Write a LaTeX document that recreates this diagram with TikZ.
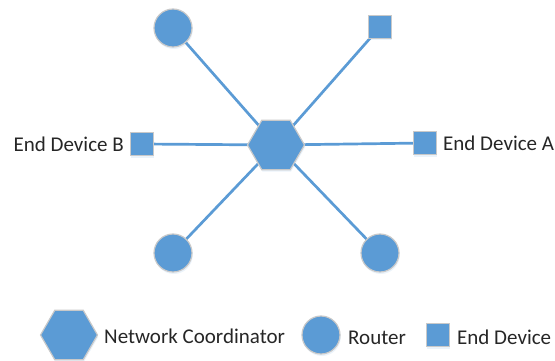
\documentclass[tikz,border=0pt]{standalone}
\usepackage{fontspec}
\setmainfont{Carlito}
\usetikzlibrary{shapes.geometric,shadows}
\definecolor{nodeblue}{HTML}{5B9BD5}
\definecolor{rimgray}{HTML}{C9C9C9}
\definecolor{txt}{HTML}{262626}
\tikzset{
  dev/.style={fill=nodeblue, draw=rimgray, line width=1.2pt,
    drop shadow={opacity=0.12, shadow xshift=0.8pt, shadow yshift=-2pt, fill=nodeblue}},
  hexnode/.style={dev, shape=regular polygon, regular polygon sides=6, minimum size=57pt, inner sep=0pt},
  routernode/.style={dev, circle, minimum size=38pt, inner sep=0pt},
  endnode/.style={dev, rectangle, minimum size=23pt, inner sep=0pt},
  link/.style={draw=nodeblue, line width=2.7pt},
  lab/.style={text=txt, font=\fontsize{21pt}{24pt}\selectfont, inner sep=0pt}
}
\begin{document}
\begin{tikzpicture}[x=1pt,y=-1pt]
\useasboundingbox (0,0) rectangle (555,361);
% links first (drawn under nodes)
\coordinate (c0) at (276,145);
\coordinate (c1) at (173,28);
\coordinate (c2) at (380,27);
\coordinate (c3) at (142,144);
\coordinate (c4) at (425,143);
\coordinate (c5) at (173,253);
\coordinate (c6) at (380,253);
\foreach \k in {1,...,6} {\path[link] (c0) -- (c\k);}
% nodes
\node[hexnode] (hub) at (c0) {};
\node[routernode] (r1) at (c1) {};
\node[endnode] (e1) at (c2) {};
\node[endnode] (eb) at (c3) {};
\node[endnode] (ea) at (c4) {};
\node[routernode] (r2) at (c5) {};
\node[routernode] (r3) at (c6) {};
\node[lab, anchor=base east] (labB) at (124,152) {End Device B};
\node[lab, anchor=base west] (labA) at (443,150) {End Device A};
% legend
\node[hexnode] (lhex) at (69,335) {};
\node[lab, anchor=base west] (lhext) at (104,343) {Network Coordinator};
\node[routernode] (lrout) at (321,335) {};
\node[lab, anchor=base west] (lroutt) at (348,344) {Router};
\node[endnode] (lend) at (438,335) {};
\node[lab, anchor=base west] (lendt) at (457,344) {End Device};
\end{tikzpicture}
\end{document}
